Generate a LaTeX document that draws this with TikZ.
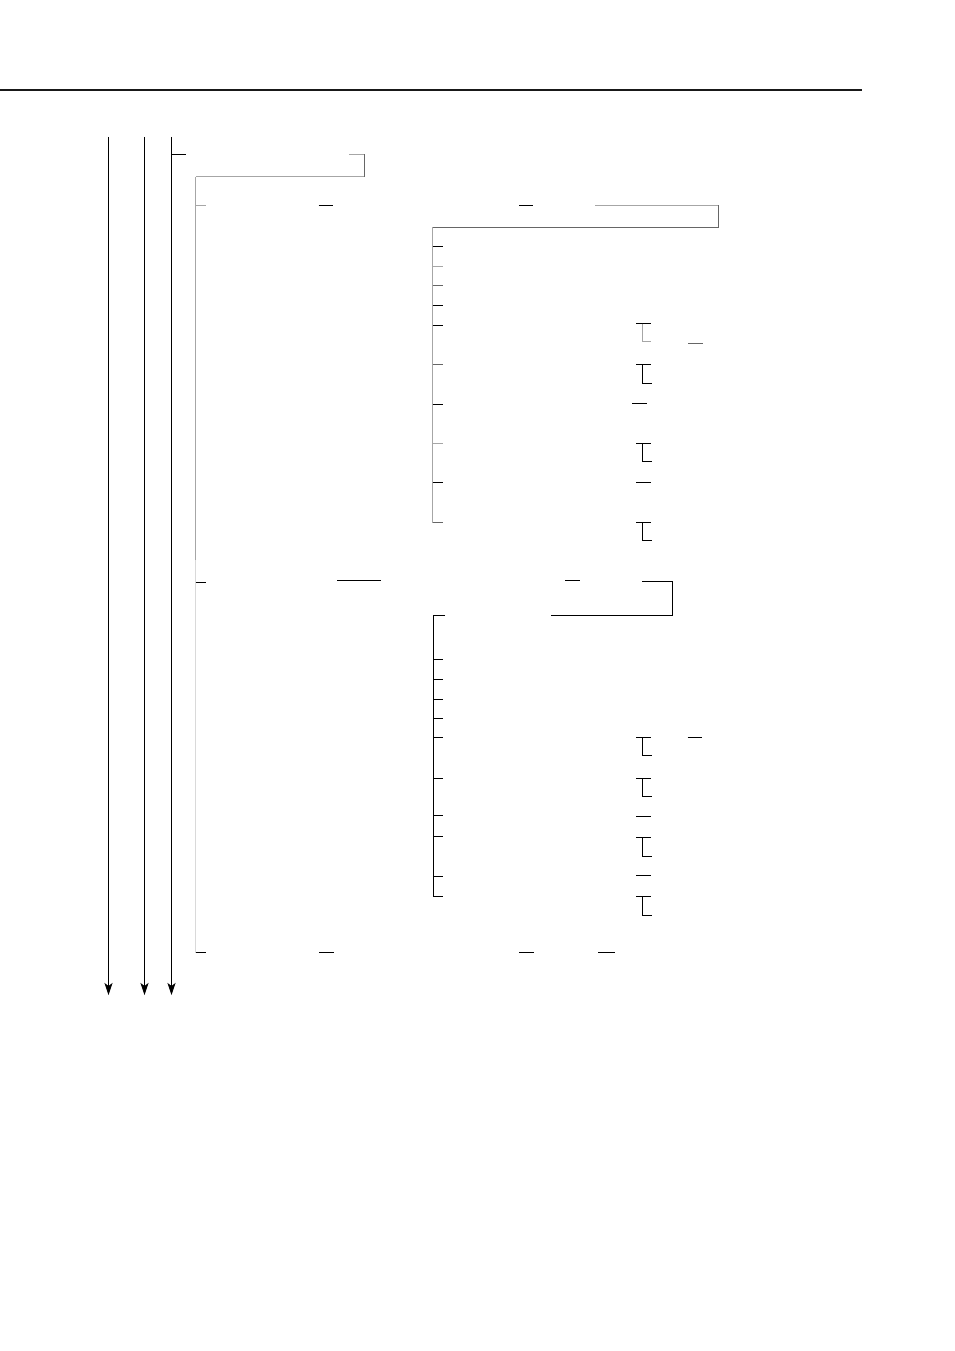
\documentclass[tikz,border=0pt]{standalone}
\usetikzlibrary{arrows.meta}
\begin{document}
\begin{tikzpicture}[x=1pt,y=-1pt,
  ln/.style={line width=1pt,black},
  lg/.style={line width=1pt,black!35},
  mg/.style={line width=1pt,black!60},
  vlg/.style={line width=1pt,black!15},
  arr/.style={line width=1pt,-{Stealth[length=12pt,width=8pt,inset=3pt]}}]
\useasboundingbox (0,0) rectangle (954,1351);
% top rule
\draw[line width=2pt,black!90] (0,90) -- (862,90);
% three long arrows
\coordinate (a1s) at (108.5,137); \coordinate (a1e) at (108.5,995);
\coordinate (a2s) at (144.5,137); \coordinate (a2e) at (144.5,995);
\coordinate (a3s) at (171.5,137); \coordinate (a3e) at (171.5,995);
\draw[arr] (a1s) -- (a1e);
\draw[arr] (a2s) -- (a2e);
\draw[arr] (a3s) -- (a3e);
% root stub
\draw[ln] (171.5,154.5) -- (186,154.5);
% connector to level 1
\draw[lg] (349,154.5) -- (364,154.5);
\draw[mg] (364,154.5) -- (364,177);
\draw[lg] (364,177) -- (195.5,177);
% level-1 spine (upper part medium, lower part light)
\draw[lg] (195.5,177) -- (195.5,560);
\draw[vlg] (195.5,560) -- (195.5,952.5);
% level-1 stubs
\draw[lg] (195.5,205) -- (205.5,205);
\draw[ln] (318.5,205) -- (333,205);
\draw[ln] (519,205) -- (533,205);
\draw[lg] (595,205) -- (718.5,205);
\draw[mg] (718.5,205) -- (718.5,227);
\draw[mg] (718.5,227) -- (432.5,227);
% level-2 spine (upper)
\draw[lg] (432.5,227) -- (432.5,522.5);
\draw[ln] (432.5,246.5) -- (443,246.5);
\draw[lg] (432.5,266) -- (443,266);
\draw[mg] (432.5,285.5) -- (443,285.5);
\draw[ln] (432.5,305.5) -- (443,305.5);
\draw[ln] (432.5,325.5) -- (443,325.5);
\draw[mg] (432.5,364.5) -- (443,364.5);
\draw[ln] (432.5,404) -- (443,404);
\draw[lg] (432.5,443.5) -- (443,443.5);
\draw[ln] (432.5,482.5) -- (443,482.5);
\draw[mg] (432.5,522.5) -- (443,522.5);
% right-hand brackets (upper)
\draw[ln] (636,323.5) -- (651,323.5);
\draw[lg] (642,323.5) -- (642,341.5) -- (651,341.5);
\draw[mg] (688,343.5) -- (703,343.5);
\draw[ln] (636,364.5) -- (651,364.5);
\draw[ln] (642,364.5) -- (642,383.5) -- (652,383.5);
\draw[ln] (632,403) -- (647,403);
\draw[ln] (636,443.5) -- (651,443.5);
\draw[ln] (642,443.5) -- (642,461.5) -- (652,461.5);
\draw[ln] (636,482.5) -- (651,482.5);
\draw[ln] (636,522.5) -- (651,522.5);
\draw[ln] (642,522.5) -- (642,540.5) -- (652,540.5);
% second level-1 entry
\draw[ln] (195.5,582) -- (205.5,582);
\draw[ln] (337,580.5) -- (381,580.5);
\draw[ln] (565,580.5) -- (580,580.5);
\draw[ln] (642,581.5) -- (672.5,581.5) -- (672.5,615.5) -- (551,615.5);
% level-2 spine (lower)
\draw[ln] (445,615.5) -- (433.5,615.5) -- (433.5,896.5) -- (443,896.5);
\foreach \yy in {659.5,679.5,699.5,718.5,737.5,778,815.5,836.5,876.5}
  \draw[ln] (433.5,\yy) -- (443,\yy);
% right-hand brackets (lower)
\draw[ln] (636,737.5) -- (651,737.5);
\draw[ln] (642,737.5) -- (642,755.5) -- (652,755.5);
\draw[ln] (687.5,737.5) -- (702,737.5);
\draw[ln] (636,778) -- (651,778);
\draw[ln] (642,778) -- (642,796) -- (652,796);
\draw[ln] (636,816) -- (651,816);
\draw[ln] (636,837.5) -- (651,837.5);
\draw[ln] (642,837.5) -- (642,856.5) -- (652,856.5);
\draw[ln] (636,875.5) -- (651,875.5);
\draw[ln] (636,896.5) -- (651,896.5);
\draw[ln] (642,896.5) -- (642,915.5) -- (652,915.5);
% last level-1 entry
\draw[ln] (195.5,952.5) -- (206,952.5);
\draw[ln] (319,952.5) -- (334,952.5);
\draw[ln] (519,952.5) -- (534,952.5);
\draw[ln] (598,952.5) -- (615,952.5);
\end{tikzpicture}
\end{document}
